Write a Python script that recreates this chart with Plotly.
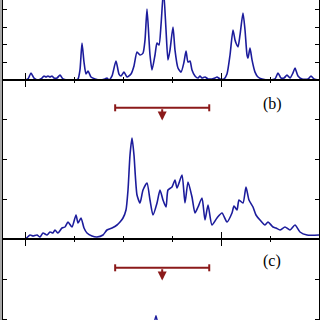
import plotly.graph_objects as go
from plotly.subplots import make_subplots

# ---- data (x in arbitrary energy units, y in arbitrary intensity units) ----
xa = [-0.449, 0.0, 0.061, 0.122, 0.184, 0.265, 0.347, 0.388, 0.429, 0.469, 0.510, 0.551, 0.592, 0.653,
      0.714, 0.776, 0.857, 1.020, 1.082, 1.122, 1.163, 1.204, 1.245, 1.286, 1.347, 1.429, 1.531, 1.633,
      1.673, 1.714, 1.776, 1.857, 1.918, 1.959, 2.020, 2.082, 2.163, 2.224, 2.286, 2.347, 2.408, 2.449,
      2.490, 2.531, 2.551, 2.592, 2.653, 2.694, 2.735, 2.776, 2.827, 2.878, 2.918, 2.959, 3.020, 3.061,
      3.122, 3.184, 3.245, 3.286, 3.327, 3.367, 3.408, 3.469, 3.531, 3.571, 3.612, 3.673, 3.735, 3.816,
      3.878, 3.918, 3.980, 4.061, 4.122, 4.184, 4.245, 4.286, 4.306, 4.347, 4.388, 4.449, 4.490, 4.531,
      4.551, 4.592, 4.633, 4.694, 4.755, 4.837, 5.0, 5.102, 5.163, 5.224, 5.286, 5.347, 5.408, 5.469,
      5.510, 5.571, 5.653, 5.776, 5.837, 5.898, 6.0]
ya = [0, 0, 0.06, 0.40, 0.11, 0, 0.11, 0.23, 0.17, 0.23, 0.17, 0.23, 0.11, 0.11,
      0.28, 0.06, 0, 0, 0.06, 0.57, 2.10, 1.02, 0.34, 0.51, 0.17, 0.06, 0, 0.06,
      0.11, 0, 0.23, 1.08, 0.34, 0.23, 0.45, 0.17, 0.34, 0.80, 1.59, 1.42, 1.53, 2.27,
      4.03, 2.27, 1.42, 0.57, 1.42, 2.10, 1.99, 3.13, 5.11, 2.84, 1.14, 1.70, 3.01, 1.70,
      0.68, 0.45, 1.02, 1.65, 1.02, 1.08, 0.57, 0.23, 0.11, 0.23, 0.11, 0.17, 0.06, 0.06,
      0.11, 0.17, 0.06, 0.06, 0.34, 1.42, 2.84, 2.27, 2.10, 1.88, 2.56, 3.81, 2.84, 1.42,
      1.25, 1.82, 1.14, 0.45, 0.17, 0.06, 0, 0.06, 0.40, 0.11, 0.11, 0.28, 0.11, 0.40,
      0.68, 0.23, 0.06, 0.06, 0.23, 0.06, 0]

xb = [-0.449, 0.0, 0.102, 0.163, 0.245, 0.306, 0.367, 0.449, 0.510, 0.571, 0.612, 0.673, 0.755, 0.816,
      0.878, 0.959, 1.041, 1.082, 1.143, 1.204, 1.265, 1.367, 1.469, 1.592, 1.673, 1.776, 1.878, 1.939,
      2.0, 2.061, 2.102, 2.143, 2.184, 2.224, 2.286, 2.347, 2.408, 2.490, 2.551, 2.612, 2.694, 2.755,
      2.816, 2.878, 2.918, 3.0, 3.061, 3.102, 3.204, 3.265, 3.327, 3.408, 3.469, 3.531, 3.612, 3.673,
      3.735, 3.816, 3.918, 4.020, 4.122, 4.224, 4.265, 4.327, 4.367, 4.449, 4.510, 4.571, 4.653, 4.714,
      4.796, 4.898, 4.959, 5.061, 5.122, 5.204, 5.306, 5.408, 5.510, 5.612, 5.755, 6.0]
yb = [0, 0, 0.10, 0.075, 0.10, 0.05, 0.15, 0.10, 0.175, 0.15, 0.225, 0.15, 0.275, 0.30,
      0.425, 0.30, 0.60, 0.40, 0.525, 0.275, 0.15, 0.075, 0.05, 0.10, 0.225, 0.275, 0.35, 0.425,
      0.525, 0.725, 1.225, 2.10, 2.525, 2.10, 1.10, 0.90, 1.225, 1.40, 0.975, 0.60, 0.90, 1.225,
      0.975, 0.80, 1.225, 1.30, 1.475, 1.275, 1.60, 0.90, 1.425, 1.05, 0.65, 0.80, 1.025, 0.475,
      0.85, 0.35, 0.525, 0.65, 0.425, 0.65, 0.825, 0.725, 0.975, 0.90, 1.30, 0.975, 0.80, 0.60,
      0.475, 0.35, 0.425, 0.30, 0.275, 0.225, 0.30, 0.225, 0.35, 0.175, 0.10, 0.10]

xc = [-0.449, 1.0, 2.0, 2.45, 2.58, 2.673, 2.76, 2.9, 3.5, 4.5, 6.0]
yc = [0, 0.2, 0.5, 0.8, 1.5, 2.08, 1.5, 0.7, 0.6, 0.5, 0.1]

window = [1.84, 3.76]      # energy window marked by the red bar
window_level = 3.28
arrow_x = 2.80
arrow_tip = 2.96
panel_labels = ["(b)", "(c)"]

blue = "#1c1c9c"
red = "#8b1a1a"

fig = make_subplots(rows=3, cols=1, vertical_spacing=0)
for r, (x, y) in enumerate([(xa, ya), (xb, yb), (xc, yc)], start=1):
    fig.add_trace(go.Scatter(x=x, y=y, mode="lines",
                             line=dict(color=blue, width=1.6, shape="spline", smoothing=0.6),
                             showlegend=False, hoverinfo="skip"), row=r, col=1)

for r in (2, 3):
    fig.add_trace(go.Scatter(x=window, y=[window_level, window_level], mode="lines+markers",
                             line=dict(color=red, width=2),
                             marker=dict(symbol="line-ns", size=5, line=dict(color=red, width=2)),
                             showlegend=False, hoverinfo="skip"), row=r, col=1)
    xr = f"x{r}"
    yr = f"y{r}"
    fig.add_annotation(x=arrow_x, y=arrow_tip, ax=arrow_x, ay=window_level,
                       xref=xr, yref=yr, axref=xr, ayref=yr, text="",
                       showarrow=True, arrowhead=2, arrowsize=0.9, arrowwidth=2, arrowcolor=red)
    fig.add_annotation(x=5.05, y=3.38 if r == 2 else 3.45, xref=xr, yref=yr,
                       text=panel_labels[r - 2], showarrow=False,
                       font=dict(family="Liberation Serif", size=16, color="black"))

H = 320.0
doms = [[1 - 80 / H, 1.0], [1 - 239 / H, 1 - 80 / H], [0.0, 1 - 239 / H]]
yranges = [[0, 4.545], [0, 3.975], [1.975, 4.0]]
for i in range(3):
    xa_name = "xaxis" if i == 0 else f"xaxis{i+1}"
    ya_name = "yaxis" if i == 0 else f"yaxis{i+1}"
    xcfg = dict(range=[-0.449, 6.0], showline=True, linecolor="black", linewidth=1,
                ticks="inside", tick0=0, dtick=4, ticklen=7, tickwidth=1, tickcolor="black",
                minor=dict(dtick=1, tick0=0, ticks="inside", ticklen=3, tickwidth=1, tickcolor="black"),
                showticklabels=False, showgrid=False, zeroline=False)
    if i == 0:
        xcfg.update(mirror=False, side="bottom")
    elif i == 1:
        xcfg.update(mirror="ticks")
    else:
        xcfg.update(mirror=False, side="top")
    fig.layout[xa_name].update(**xcfg)
    fig.layout[ya_name].update(domain=doms[i], range=yranges[i], showline=True, linecolor="black",
                               linewidth=1, mirror="ticks", ticks="inside", tick0=0, dtick=1,
                               ticklen=4, tickcolor="black", showticklabels=False,
                               showgrid=False, zeroline=False)

fig.add_shape(type="rect", xref="paper", yref="paper", x0=-3 / 316, x1=0, y0=0, y1=1,
              fillcolor="#a8a8a8", line=dict(width=0), layer="below")

fig.update_layout(width=320, height=320, margin=dict(l=3, r=1, t=0, b=0),
                  plot_bgcolor="white", paper_bgcolor="white", hovermode=False)
fig.write_html("out.html", config={"displayModeBar": False, "staticPlot": True},
               post_script="document.body.style.margin='0';document.body.style.overflow='hidden';")
